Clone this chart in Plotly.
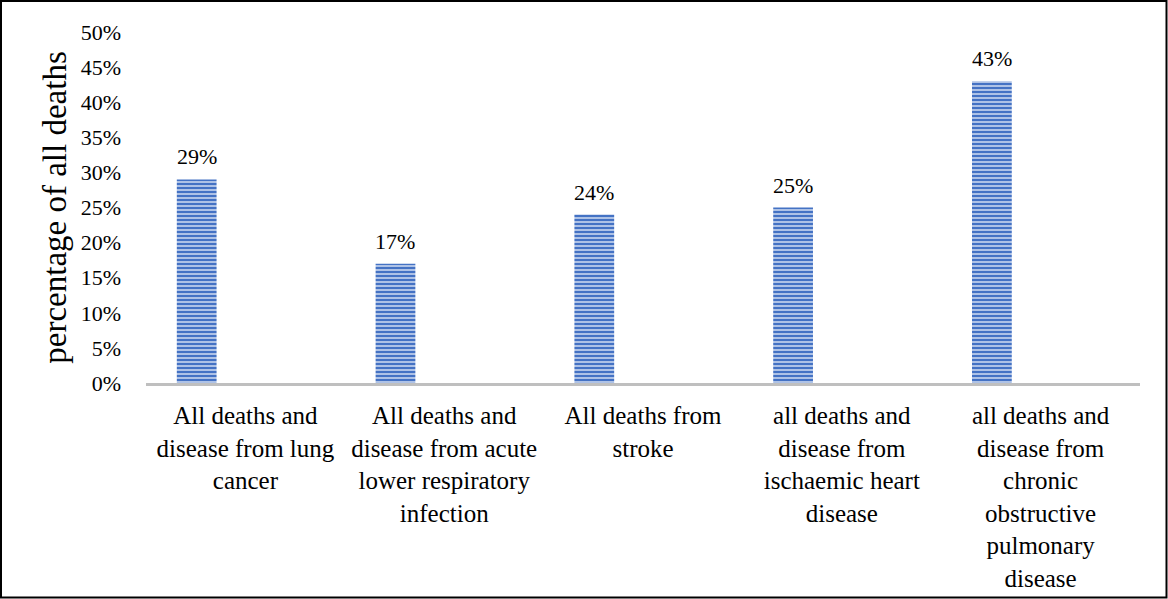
import plotly.graph_objects as go

# Share of deaths attributable to each cause (percent)
categories = [
    "All deaths and<br>disease from lung<br>cancer",
    "All deaths and<br>disease from acute<br>lower respiratory<br>infection",
    "All deaths from<br>stroke",
    "all deaths and<br>disease from<br>ischaemic heart<br>disease",
    "all deaths and<br>disease from<br>chronic<br>obstructive<br>pulmonary<br>disease",
]
values = [29, 17, 24, 25, 43]
y_ticks = [0, 5, 10, 15, 20, 25, 30, 35, 40, 45, 50]

FONT = "Liberation Serif, Times New Roman, serif"
BAR_WIDTH = 0.2
BAR_OFFSET = -0.345

W, H = 1168, 599
ML, MR, MT, MB = 146, 28, 32, 216
PW, PH = W - ML - MR, H - MT - MB

fig = go.Figure()
fig.add_trace(go.Bar(
    x=categories,
    y=values,
    width=BAR_WIDTH,
    offset=BAR_OFFSET,
    marker=dict(
        color="#4472C4",
        line=dict(width=0),
        pattern=dict(shape="-", bgcolor="#4472C4", fgcolor="#DCE5F5",
                     size=4, solidity=0.35, fillmode="replace"),
    ),
    hoverinfo="x+y",
))

# Value labels above each bar
for i, v in enumerate(values):
    fig.add_annotation(
        x=i + BAR_OFFSET + BAR_WIDTH / 2, y=v,
        text=f"{v}%", showarrow=False,
        yanchor="bottom", yshift=8,
        font=dict(family=FONT, size=22, color="black"),
    )

# Outer frame around the whole chart
def px_to_paper_x(px):
    return (px - ML) / PW

def px_to_paper_y(py):
    return (H - MB - py) / PH

fig.add_shape(
    type="rect", xref="paper", yref="paper",
    x0=px_to_paper_x(1), x1=px_to_paper_x(1166.5),
    y0=px_to_paper_y(597.5), y1=px_to_paper_y(1),
    line=dict(color="black", width=2), fillcolor="rgba(0,0,0,0)",
    layer="above",
)

fig.update_layout(
    width=W, height=H,
    margin=dict(l=ML, r=MR, t=MT, b=MB, pad=0, autoexpand=False),
    paper_bgcolor="white", plot_bgcolor="white",
    showlegend=False,
    font=dict(family=FONT, color="black"),
    xaxis=dict(
        type="category",
        automargin=False,
        showline=True, linecolor="#BFBFBF", linewidth=3,
        showgrid=False, zeroline=False,
        ticks="", tickfont=dict(family=FONT, size=25, color="black"),
        ticklabelstandoff=8,
        tickangle=0,
    ),
    yaxis=dict(
        automargin=False,
        range=[0, 50],
        tickvals=y_ticks,
        ticktext=[f"{t}%" for t in y_ticks],
        showgrid=False, zeroline=False, showline=False,
        ticks="", ticklabelstandoff=24,
        tickfont=dict(family=FONT, size=22, color="black"),
        title=dict(text="percentage of all deaths", standoff=4,
                   font=dict(family=FONT, size=33, color="black")),
    ),
)

fig.write_html("out.html")
